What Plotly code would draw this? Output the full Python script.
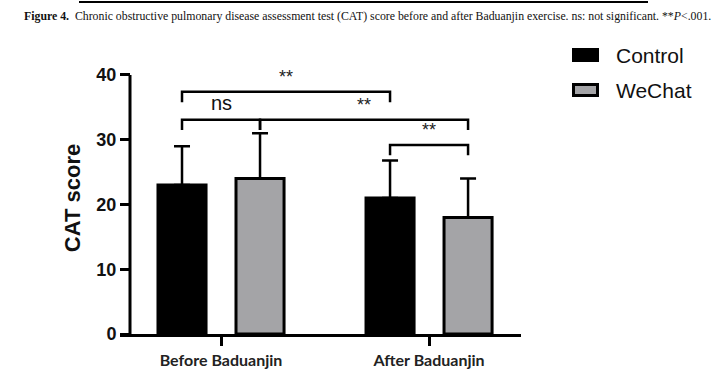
import plotly.graph_objects as go

# ---------------- data ----------------
categories = ["Before Baduanjin", "After Baduanjin"]
series_names = ["Control", "WeChat"]
control_mean = [23.0, 21.0]
control_sd = [6.0, 5.8]
wechat_mean = [24.0, 18.0]
wechat_sd = [7.0, 6.0]
y_ticks = [0, 10, 20, 30, 40]
# comparisons: (group, series) of left bar, (group, series) of right bar, bracket height, label
comparisons = [
    ((0, 0), (1, 0), 37.4, "**"),
    ((0, 0), (0, 1), 33.1, "ns"),
    ((0, 1), (1, 1), 33.1, "**"),
    ((1, 0), (1, 1), 29.2, "**"),
]
caption = ("<b>Figure 4.</b>  Chronic obstructive pulmonary disease assessment test (CAT) "
           "score before and after Baduanjin exercise. ns: not significant. **<i>P</i>&lt;.001.")

# ---------------- layout constants ----------------
W, H = 719, 372
L, R, T, B = 120, 198, 62, 38
PW, PH = W - L - R, H - T - B
BARGAP = 0.25
BARGROUPGAP = 0.384
half_slot = (1 - BARGAP) / 4  # centre offset of each bar in a group of 2
colors = ["#000000", "#a4a4a7"]


def px_x(px):
    return (px - L) / PW


def px_y(py):
    return (H - B - py) / PH


def bar_center(group, series):
    return group + (-half_slot if series == 0 else half_slot)


fig = go.Figure()
for name, mean, sd, col in zip(series_names, [control_mean, wechat_mean],
                               [control_sd, wechat_sd], colors):
    fig.add_trace(go.Bar(
        x=categories, y=mean, name=name, showlegend=False, hoverinfo="skip",
        marker=dict(color=col, line=dict(color="black", width=3)),
        error_y=dict(type="data", array=sd, arrayminus=[0] * len(sd), symmetric=False,
                     color="black", thickness=2.5, width=8),
    ))

shapes = []
annotations = []

# y-axis line (0..40 only)
yaxis_pos = px_x(130)
shapes.append(dict(type="line", xref="paper", yref="y", x0=yaxis_pos, x1=yaxis_pos,
                   y0=0, y1=y_ticks[-1], line=dict(color="black", width=3)))

# significance brackets
leg = 1.6
for (g0, s0), (g1, s1), h, lab in comparisons:
    xa, xb = bar_center(g0, s0), bar_center(g1, s1)
    shapes.append(dict(type="path", xref="x", yref="y",
                       path=f"M {xa},{h-leg} L {xa},{h} L {xb},{h} L {xb},{h-leg}",
                       line=dict(color="black", width=2.5)))
    if lab == "ns":
        annotations.append(dict(x=(xa + xb) / 2, y=h + 0.6, xref="x", yref="y", text=lab,
                                showarrow=False, yanchor="bottom",
                                font=dict(family="Liberation Sans", size=20, color="#111")))
    else:
        annotations.append(dict(x=(xa + xb) / 2, y=h + 0.4, xref="x", yref="y", text=lab,
                                showarrow=False, yanchor="bottom",
                                font=dict(family="Liberation Sans", size=18, color="#222")))

# legend (drawn manually to match the large boxes)
legend_y = [55, 90]
for name, col, ly in zip(series_names, colors, legend_y):
    shapes.append(dict(type="rect", xref="paper", yref="paper",
                       x0=px_x(573.5), x1=px_x(597.5), y0=px_y(ly - 5.5), y1=px_y(ly + 5.5),
                       fillcolor=col, line=dict(color="black", width=3)))
    annotations.append(dict(x=px_x(614), y=px_y(ly), xref="paper", yref="paper", text=name,
                            showarrow=False, xanchor="left", yanchor="middle",
                            font=dict(family="Liberation Sans", size=21, color="#111")))

# caption and rule
shapes.append(dict(type="line", xref="paper", yref="paper", x0=px_x(79), x1=px_x(648),
                   y0=px_y(2), y1=px_y(2), line=dict(color="black", width=2)))
annotations.append(dict(x=px_x(22), y=px_y(16), xref="paper", yref="paper", text=caption,
                        showarrow=False, xanchor="left", yanchor="middle",
                        font=dict(family="Liberation Serif", size=11.8, color="#111")))

fig.update_layout(
    width=W, height=H, margin=dict(l=L, r=R, t=T, b=B, pad=0, autoexpand=False),
    paper_bgcolor="white", plot_bgcolor="white",
    barmode="group", bargap=BARGAP, bargroupgap=BARGROUPGAP,
    shapes=shapes, annotations=annotations, hovermode=False,
    xaxis=dict(range=[-0.4856, 1.442], showline=True, linecolor="black", linewidth=3,
               automargin=False,
               ticks="outside", ticklen=9, tickwidth=3, tickcolor="black", showgrid=False,
               tickfont=dict(family="Lato", size=16, color="#222", weight="bold"),
               ticklabelstandoff=1),
    yaxis=dict(range=[0, 42], anchor="free", position=yaxis_pos, showline=False,
               automargin=False,
               tickvals=y_ticks, ticks="outside", ticklen=10, tickwidth=3, tickcolor="black",
               showgrid=False, zeroline=False,
               tickfont=dict(family="Liberation Sans", size=18, color="#111", weight="bold"),
               title=dict(text="<b>CAT score</b>", standoff=8,
                          font=dict(family="Liberation Sans", size=22, color="#111"))),
)

fig.write_html("out.html", config={"displayModeBar": False},
               post_script="document.body.style.margin='0';")
